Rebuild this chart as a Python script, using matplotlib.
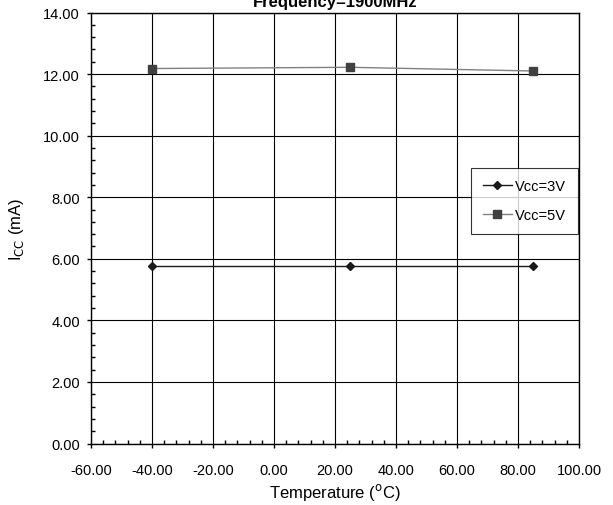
import matplotlib
matplotlib.use("Agg")
import matplotlib.pyplot as plt
from matplotlib.ticker import MultipleLocator, FormatStrFormatter

temps = [-40, 25, 85]
icc_3v = [5.78, 5.78, 5.78]
icc_5v = [12.18, 12.22, 12.10]
series_labels = ["Vcc=3V", "Vcc=5V"]

plt.rcParams['font.family'] = ['Liberation Sans', 'DejaVu Sans']

fig = plt.figure(figsize=(6.13, 5.06), dpi=100)
ax = fig.add_axes([91/613, 1-444.5/506, (579-91)/613, (444.5-13.5)/506])

ax.plot(temps, icc_3v, color='#1a1a1a', lw=1.0, marker='D', ms=4.5,
        mfc='#1a1a1a', mec='#1a1a1a', label=series_labels[0], zorder=3)
ax.plot(temps, icc_5v, color='#808080', lw=1.0, marker='s', ms=6,
        mfc='#404040', mec='#404040', label=series_labels[1], zorder=3)

ax.set_xlim(-60, 100)
ax.set_ylim(0, 14)
ax.xaxis.set_major_locator(MultipleLocator(20))
ax.xaxis.set_minor_locator(MultipleLocator(4))
ax.yaxis.set_major_locator(MultipleLocator(2))
ax.yaxis.set_minor_locator(MultipleLocator(0.4))
ax.xaxis.set_major_formatter(FormatStrFormatter('%.2f'))
ax.yaxis.set_major_formatter(FormatStrFormatter('%.2f'))
ax.tick_params(which='major', direction='out', length=3, width=1, labelsize=10.5)
ax.tick_params(axis='x', which='major', pad=11)
ax.tick_params(axis='y', which='major', pad=5)
ax.tick_params(which='minor', direction='in', length=3, width=1)
ax.grid(True, which='major', color='black', lw=0.8)
for s in ax.spines.values():
    s.set_linewidth(1.0)
    s.set_color('black')

ax.set_xlabel('Temperature ($^{\\mathrm{o}}$C)', fontsize=12, labelpad=3)
ax.set_ylabel('I$_{\\mathrm{CC}}$ (mA)', fontsize=12, labelpad=12)
fig.text((91+579)/2/613, 1-7/506, 'Frequency=1900MHz', fontsize=12,
         fontweight='bold', ha='center', va='baseline')

leg = ax.legend(loc='upper right', bbox_to_anchor=(1.0, (444-167)/(444-13.5)),
                frameon=True, fancybox=False, fontsize=10.5, handlelength=2.0,
                borderpad=0.8, labelspacing=1.0, handletextpad=0.2,
                borderaxespad=0.1)
leg.get_frame().set_edgecolor('black')
leg.get_frame().set_linewidth(0.8)

fig.savefig('out.png', dpi=100)
